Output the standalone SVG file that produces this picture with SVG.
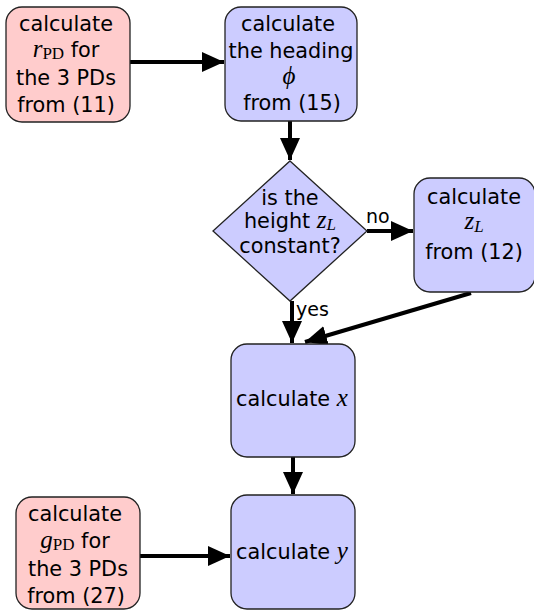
<svg xmlns="http://www.w3.org/2000/svg" width="534" height="610" viewBox="0 0 534 610">
<defs>
<marker id="ah" markerWidth="5.5" markerHeight="5" refX="5.5" refY="2.5" orient="auto" markerUnits="strokeWidth">
<path d="M0,0 L5.5,2.5 L0,5 Z" fill="#000"/>
</marker>
<style>
.pink{fill:#ffcccc;stroke:#222;stroke-width:1.3}
.blue{fill:#ccccff;stroke:#222;stroke-width:1.3}
text{font-family:"DejaVu Sans",sans-serif;font-size:20.8px;fill:#000;text-anchor:middle}
.m{font-family:"Liberation Serif","DejaVu Serif",serif;font-style:italic;font-size:25px}
.s{font-family:"Liberation Serif","DejaVu Serif",serif;font-style:normal;font-size:17px}
.si{font-family:"Liberation Serif","DejaVu Serif",serif;font-style:italic;font-size:17px}
.c{fill:none;stroke:#000;stroke-width:4;marker-end:url(#ah)}
.lbl{text-anchor:start;font-size:19px}
</style>
</defs>
<g id="connectors">
<line class="c" x1="130" y1="62" x2="224" y2="62"/>
<line class="c" x1="290" y1="121" x2="290" y2="160"/>
<line class="c" x1="367" y1="231" x2="413" y2="231"/>
<line class="c" x1="292" y1="301" x2="292" y2="343"/>
<line class="c" x1="471" y1="293" x2="305" y2="342"/>
<line class="c" x1="293" y1="457" x2="293" y2="494"/>
<line class="c" x1="140" y1="556" x2="230" y2="556"/>
<text class="lbl" x="366" y="223">no</text>
<text class="lbl" x="296" y="316">yes</text>
</g>
<g id="n_rpd">
<rect class="pink" x="6" y="7" width="124" height="115" rx="16"/>
<text x="66" y="31">calculate</text>
<text x="66" y="57"><tspan class="m">r</tspan><tspan class="s" dy="2">PD</tspan><tspan dy="-2">  for</tspan></text>
<text x="66" y="85">the 3 PDs</text>
<text x="66" y="112">from (11)</text>
</g>
<g id="n_heading">
<rect class="blue" x="225" y="7" width="132" height="114" rx="16"/>
<text x="288" y="31">calculate</text>
<text x="291" y="58">the heading</text>
<text class="m" x="289" y="84">ϕ</text>
<text x="292" y="110">from (15)</text>
</g>
<g id="n_decision">
<polygon class="blue" points="290,161 367,231 290,301 213,231"/>
<text x="290" y="205">is the</text>
<text x="290" y="228">height <tspan class="m">z</tspan><tspan class="si" dy="2">L</tspan></text>
<text x="290" y="253">constant?</text>
</g>
<g id="n_zl">
<rect class="blue" x="414" y="178" width="121" height="114" rx="16"/>
<text x="474" y="204">calculate</text>
<text x="474" y="229"><tspan class="m">z</tspan><tspan class="si" dy="3">L</tspan></text>
<text x="474" y="259">from (12)</text>
</g>
<g id="n_x">
<rect class="blue" x="231" y="344" width="124" height="113" rx="16"/>
<text x="292" y="406">calculate <tspan class="m">x</tspan></text>
</g>
<g id="n_y">
<rect class="blue" x="231" y="495" width="124" height="114" rx="16"/>
<text x="292" y="559">calculate <tspan class="m">y</tspan></text>
</g>
<g id="n_gpd">
<rect class="pink" x="16" y="497" width="124" height="112" rx="16"/>
<text x="75" y="521">calculate</text>
<text x="75" y="548"><tspan class="m">g</tspan><tspan class="s" dy="2">PD</tspan><tspan dy="-2"> for</tspan></text>
<text x="78" y="576">the 3 PDs</text>
<text x="76" y="603">from (27)</text>
</g>
</svg>
